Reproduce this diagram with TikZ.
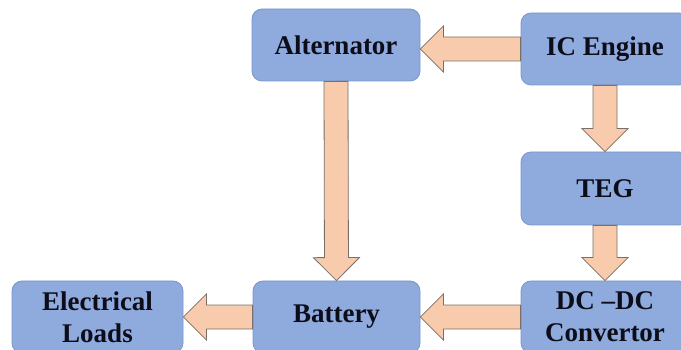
\documentclass[tikz,border=0pt]{standalone}
\usepackage{fontspec}
\setmainfont{Liberation Serif}
\usetikzlibrary{calc}
\definecolor{boxfill}{HTML}{8FAADC}
\definecolor{boxline}{HTML}{7B96C8}
\definecolor{arrfill}{HTML}{F8CBAD}
\definecolor{arrline}{HTML}{7A6E68}
\definecolor{txt}{HTML}{0D0D1A}
\tikzset{
  blockbox/.style={draw=boxline, line width=0.8pt, fill=boxfill, rounded corners=10pt,
    minimum width=168pt, minimum height=72pt, inner sep=0pt, align=center,
    text=txt, font=\fontsize{27}{32}\selectfont\bfseries},
  fatarr/.style={draw=arrline, line width=0.8pt, fill=arrfill, line join=miter}
}
\newcommand\FatArr[2]{%
  \coordinate (hb) at ($(#2)!23pt!(#1)$);
  \draw[fatarr] ($(#1)!12pt!90:(#2)$) -- ($(hb)!12pt!90:(#2)$) -- ($(hb)!23pt!90:(#2)$)
    -- (#2) -- ($(hb)!23pt!-90:(#2)$) -- ($(hb)!12pt!-90:(#2)$) -- ($(#1)!12pt!-90:(#2)$) -- cycle;}
\begin{document}
\begin{tikzpicture}[x=1pt,y=-1pt]
\useasboundingbox (0,0) rectangle (681,350);
\clip (0,0) rectangle (681,350);
\node[blockbox] (alt) at (336,45) {Alternator};
\node[blockbox] (ic) at (605,49) {IC Engine};
\node[blockbox, minimum height=73pt] (teg) at (605,188.5) {TEG};
\node[blockbox] (dc) at (605,317) {DC –DC\\Convertor};
\node[blockbox, minimum width=167pt] (bat) at (336.5,317) {Battery};
\node[blockbox, minimum width=171pt] (loads) at (97.5,317) {Electrical\\Loads};
\coordinate (t1) at (alt.east |- ic.west);
\FatArr{ic.west}{t1}
\coordinate (s2) at (ic.south -| teg.north);
\FatArr{s2}{teg.north}
\coordinate (t3) at (dc.north -| teg.south);
\FatArr{teg.south}{t3}
\FatArr{alt.south}{bat.north}
\FatArr{dc.west}{bat.east}
\FatArr{bat.west}{loads.east}
\end{tikzpicture}
\end{document}
